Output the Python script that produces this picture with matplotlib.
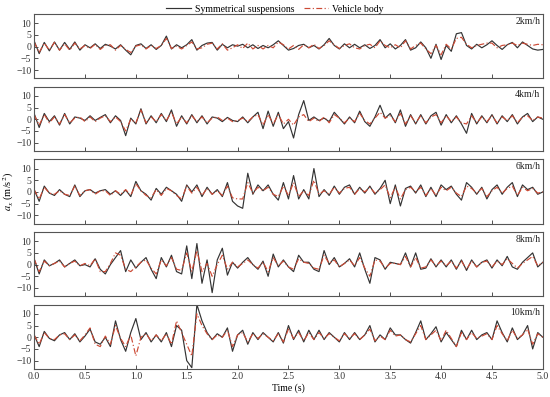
import numpy as np
import matplotlib
matplotlib.use("Agg")
import matplotlib.pyplot as plt

plt.rcParams['font.family'] = ['Liberation Serif', 'DejaVu Serif']
plt.rcParams['mathtext.fontset'] = 'stix'

# sample time (s), 0.05 s step
time = np.round(np.arange(101) * 0.05, 2)

speeds = ["2km/h", "4km/h", "6km/h", "8km/h", "10km/h"]

# Symmetrical suspensions (m/s^2)
sym_2 = [2.5, -3.0, 1.8, -1.8, 2.0, -1.5, 1.8, -1.2, 2.0, -1.5,
         0.8, -0.5, 1.2, -0.8, 1.0, 0.2, -1.0, 0.8, -1.5, -3.5,
         0.5, 1.2, -0.8, 0.8, -1.2, 0.5, 4.5, -1.0, 0.8, -0.5,
         0.8, 3.0, -1.5, 0.5, 1.5, 1.8, -1.5, 1.0, -0.5, 0.8,
         0.2, 1.0, -0.5, 0.8, -0.8, 0.5, -0.5, 0.8, 2.5, 0.5,
         -1.5, -0.8, 0.5, 1.0, -0.5, 0.5, -1.0, 0.8, 3.5, 0.5,
         -1.0, 1.2, -0.5, 1.0, -0.5, 0.8, -0.8, 0.5, 3.0, -0.5,
         1.2, -1.0, 0.5, 3.0, -1.5, -0.5, 2.0, -0.5, -5.0, 1.0,
         -5.5, 0.5, -2.0, 5.5, 6.0, 0.5, -1.0, 1.0, -0.5, 0.8,
         2.5, 0.5, -1.2, 0.8, 1.8, -0.5, 2.0, 0.5, -1.0, -1.5,
         -1.2]
sym_4 = [2.5, -3.5, 2.5, -1.0, 1.5, -2.5, 2.5, -2.0, 1.0, 0.5,
         -0.5, 1.5, -0.5, 0.8, 2.0, -1.5, 1.5, -0.5, -7.0, 0.5,
         -2.0, 4.5, -2.0, 1.5, -1.5, 2.5, -1.0, 4.0, -3.0, 1.5,
         -2.0, 2.0, -1.5, 1.5, -2.0, 1.0, 0.5, -1.0, 0.8, -0.5,
         -1.0, 1.0, -1.5, 1.0, 3.0, -4.0, 3.5, -3.0, 3.0, -4.0,
         -1.0, -8.0, 2.0, 8.0, -0.5, 1.0, -0.5, 0.5, -1.0, 3.0,
         0.5, -2.0, 1.0, -1.5, 3.5, -1.0, -3.0, 1.0, 6.0, 0.5,
         2.5, -1.5, 4.0, -3.0, 2.0, -2.0, 2.0, -2.0, 1.5, 3.0,
         -2.5, 2.0, -1.5, 1.5, -2.0, -6.0, 2.5, -2.0, 1.5, -1.5,
         2.0, -2.0, 1.5, -1.0, 2.0, -2.0, 1.0, 2.5, -1.0, 1.0,
         0.0]
sym_6 = [1.0, -4.0, 2.5, -0.5, -1.5, 1.0, -1.0, -2.0, 3.0, -2.0,
         0.5, 1.0, -0.5, 0.5, 1.0, -1.0, 0.5, -1.5, 0.8, -2.0,
         4.5, 0.5, -1.0, -3.5, 1.5, -1.0, 2.0, 0.5, -1.0, -4.0,
         3.0, 0.0, 3.0, -2.0, 2.0, -1.0, 1.0, -2.0, 4.0, -4.0,
         -6.0, -7.0, 8.0, -1.0, 3.0, 0.5, 3.0, -1.0, -3.5, 4.0,
         -3.0, 7.0, -3.0, 1.0, -3.0, 10.0, -2.0, 1.0, -1.5, 2.5,
         -1.0, 2.0, 3.0, -1.0, 2.0, -0.5, 2.5, -1.0, 1.5, 5.0,
         -5.0, 3.0, -6.0, 1.5, 2.5, -0.5, 3.0, -2.0, 2.0, -2.0,
         3.0, 1.0, 2.5, -1.0, -3.5, 4.0, 2.0, -1.0, 2.0, -3.0,
         1.0, 3.0, -1.0, 2.0, 4.0, -2.0, 3.0, 1.0, 2.0, -1.0,
         0.0]
sym_8 = [2.5, -4.0, 2.0, -0.5, 0.5, 2.0, -1.0, 0.5, 2.0, -0.5,
         0.0, -1.0, 2.5, -2.0, -4.0, 0.0, 3.0, 6.0, -3.0, 2.0,
         -1.5, 1.0, 3.0, -2.0, -6.0, 3.0, -1.0, 4.0, -3.0, -4.0,
         8.0, -6.0, 9.0, -8.0, 2.0, -12.0, 2.0, 7.0, -4.5, 1.0,
         -1.5, 1.0, 3.0, 0.0, -2.0, 1.5, -5.0, 4.5, -1.0, 2.0,
         -1.0, -3.0, 4.0, 1.0, 1.0, -2.0, -3.0, 6.0, 0.0, 3.0,
         -1.0, 0.5, 2.5, -1.0, 5.0, -2.0, -8.0, 3.0, 2.0, -2.0,
         1.0, 0.5, 0.0, 5.0, -1.0, 5.0, -2.0, -1.5, 2.5, -1.0,
         2.0, -1.0, 2.0, -2.0, 2.0, -2.5, 2.0, -1.0, 1.0, 2.0,
         -1.5, 2.0, -0.5, 3.5, -1.0, -2.0, 1.0, 3.0, 5.0, -1.0,
         1.0]
sym_10 = [1.0, -4.0, 2.5, -0.5, -1.5, 1.0, 2.0, -1.0, 1.5, -2.0,
          0.5, 3.5, -2.0, -3.0, 0.0, -4.0, 7.0, -1.0, -6.0, 2.0,
          8.0, -1.0, 2.0, -2.0, 1.0, -2.0, 2.0, -4.0, 5.0, 3.0,
          -10.0, -13.0, 14.0, 7.0, 2.0, -1.0, 1.5, 0.0, 4.0, -6.0,
          1.0, 3.0, -3.0, 2.0, -1.0, 2.0, 0.0, -2.0, 2.0, -2.5,
          5.0, -1.0, 3.0, -2.0, 3.0, -1.0, 3.0, -1.0, 2.0, 0.0,
          -2.0, 2.0, -1.0, 2.0, -1.0, 1.0, 5.0, -2.0, 1.0, -1.0,
          4.0, 1.0, 1.0, -1.0, -2.5, 2.0, 7.0, -1.0, 1.5, 4.5,
          -2.0, 2.0, -1.0, -4.0, 3.0, -1.0, 3.0, -1.0, 1.0, 2.0,
          -1.0, 7.0, 2.0, -2.0, 4.0, -1.0, 1.0, 5.0, -5.0, 2.0,
          0.0]

# Vehicle body (m/s^2)
body_2 = [2.0, -2.5, 1.5, -1.5, 1.8, -1.5, 1.2, -1.5, 1.5, -1.0,
          0.5, -0.8, 1.0, -1.2, 0.5, 0.8, -1.5, 0.5, -1.2, -2.5,
          0.2, 0.8, -1.0, 0.5, -0.8, 0.5, 3.5, -0.8, 0.2, -1.0,
          0.5, 2.0, -1.0, -0.5, 1.0, 1.5, -1.0, 1.2, -1.5, -0.5,
          0.8, -0.8, 1.5, -1.0, 0.5, -1.0, 0.5, -0.5, 2.0, 0.8,
          -1.0, 0.5, -1.2, 0.8, -0.5, 1.0, -0.8, 0.5, 2.5, 0.8,
          -0.8, 0.5, 1.2, -0.5, -1.0, 0.5, 1.0, -0.5, 2.5, 0.5,
          -0.5, 0.8, -0.5, 2.5, -1.0, 0.5, 1.5, -1.0, -3.0, 0.5,
          -3.5, 1.0, -1.0, 3.5, 4.0, 1.0, -0.5, 0.5, 1.0, 1.5,
          1.5, -0.5, 0.5, 0.8, 1.5, 0.5, 1.5, 1.0, 0.5, 1.0,
          0.8]
body_4 = [2.0, -2.5, 2.0, -1.5, 1.0, -2.0, 2.0, -1.5, 0.5, 1.0,
          -1.0, 1.0, -1.0, 0.5, 1.5, -1.0, 1.0, -1.0, -5.0, 0.0,
          -1.5, 4.0, -1.5, 1.0, -1.0, 2.0, -0.5, 3.0, -2.0, 1.0,
          -1.5, 1.5, -1.0, 1.0, -1.5, 0.5, 1.0, -0.5, 0.5, -1.0,
          -0.5, 0.5, -1.0, 1.0, 2.0, -2.5, 2.0, -2.0, 2.0, -2.0,
          0.0, -2.5, 1.0, 2.0, -1.0, 0.5, -1.0, 1.0, -1.5, 2.0,
          0.5, -1.5, 0.5, -1.0, 2.5, -0.5, -2.0, 0.5, 3.0, 0.5,
          1.5, -1.0, 2.5, -2.0, 1.5, -1.5, 1.5, -1.5, 1.0, 2.0,
          -1.5, 1.5, -1.0, 1.0, -1.5, -2.0, 1.5, -1.5, 1.0, -1.0,
          1.5, -1.5, 1.0, -0.5, 1.5, -1.5, 1.0, 1.5, -0.5, 1.0,
          0.5]
body_6 = [1.0, -3.0, 2.0, -0.5, -1.0, 0.5, -1.0, -1.5, 2.5, -1.5,
          0.5, 1.0, -1.0, 0.5, 0.5, -1.5, 0.5, -1.0, 1.0, -1.5,
          3.5, 0.5, -1.5, -2.5, 1.0, -1.5, 1.5, 0.5, -1.5, -3.0,
          2.5, -0.5, 2.0, -1.5, 1.5, -1.0, 0.5, -1.5, 2.5, -2.5,
          -3.0, -3.0, 4.0, -0.5, 2.0, 0.5, 2.0, -1.0, -2.0, 2.5,
          -1.5, 4.0, -2.0, 0.5, -1.5, 5.0, -1.0, 0.5, -1.0, 2.0,
          -0.5, 1.5, 2.0, -1.0, 1.5, 0.0, 2.0, -0.5, 1.0, 3.0,
          -2.5, 2.0, -3.0, 1.0, 2.0, 0.0, 2.0, -1.5, 1.5, -1.5,
          2.0, 0.5, 2.0, -0.5, -2.0, 2.5, 1.5, -0.5, 1.5, -2.0,
          0.5, 2.0, -0.5, 1.5, 2.5, -1.5, 2.0, 0.5, 1.5, -0.5,
          0.0]
body_8 = [2.5, -3.0, 1.5, -0.5, 0.5, 1.5, -1.0, 0.5, 1.5, -0.5,
          0.5, -0.5, 2.5, -3.0, -3.0, 0.5, 5.0, 4.0, -2.0, -3.0,
          -1.0, 1.0, 2.0, -1.5, -4.0, 2.0, -0.5, 3.0, -2.0, -2.5,
          5.0, -3.0, 6.0, -3.0, 0.5, -5.0, 0.0, 4.0, -2.0, 1.0,
          -1.0, 0.5, 2.0, 0.0, -1.5, 1.0, -3.0, 3.0, -0.5, 1.5,
          -1.0, -2.0, 2.5, 1.0, 0.5, -1.5, -2.0, 4.0, 0.5, 2.0,
          -1.0, 0.5, 2.0, -0.5, 3.0, -1.5, -5.0, 2.0, 1.5, -1.5,
          0.5, 0.5, 0.0, 3.5, -1.0, 3.0, -1.5, -1.0, 2.0, -0.5,
          1.5, -0.5, 1.5, -1.5, 1.5, -2.0, 1.5, -1.0, 1.0, 1.5,
          -1.0, 1.5, 0.0, 2.5, 0.5, -1.5, 0.5, 2.0, 3.5, -0.5,
          1.0]
body_10 = [1.0, -3.0, 2.0, -0.5, -1.0, 1.0, 1.5, -1.0, 1.0, -1.5,
           1.0, 4.0, -3.0, -4.0, 0.5, -3.0, 5.0, -0.5, -4.0, 1.0,
           -8.0, 0.0, 1.5, -1.5, 1.0, -1.5, 1.5, -3.0, 7.0, 2.0,
           -3.0, -8.0, 10.0, 5.0, 1.5, -1.0, 1.0, 0.0, 3.0, -4.0,
           1.0, 2.0, -2.0, 1.5, -0.5, 1.5, 0.0, -1.5, 1.5, -2.0,
           3.5, -0.5, 2.0, -1.5, 2.0, -1.0, 2.0, -0.5, 1.5, 0.0,
           -1.5, 1.5, -0.5, 1.5, -1.0, 1.0, 3.5, -1.5, 0.5, -1.0,
           3.0, 0.5, 1.0, -1.0, -2.0, 1.5, 5.0, -1.0, 1.0, 3.0,
           -1.5, 3.0, -0.5, -4.0, 2.0, -1.0, 2.0, -0.5, 0.5, 1.5,
           -1.0, 5.0, 1.5, -1.5, 3.0, -0.5, 1.0, 3.5, -3.0, 1.5,
           0.0]

sym_all = [sym_2, sym_4, sym_6, sym_8, sym_10]
body_all = [body_2, body_4, body_6, body_8, body_10]

fig, axes = plt.subplots(5, 1, figsize=(5.5, 3.97), dpi=100, sharex=True)
fig.subplots_adjust(left=0.062, right=0.987, top=0.965, bottom=0.071, hspace=0.13)

for ax, spd, s, b in zip(axes, speeds, sym_all, body_all):
    ln1, = ax.plot(time, s, color='#333333', lw=0.85, label='Symmetrical suspensions')
    ln2, = ax.plot(time, b, color='#cc4a35', lw=0.85, dashes=(5, 2, 1, 2),
                   label='Vehicle body')
    ax.set_xlim(0, 5)
    ax.set_ylim(-13.5, 14)
    ax.set_yticks([-10, -5, 0, 5, 10])
    ax.set_xticks(np.arange(0, 5.01, 0.5))
    ax.tick_params(direction='in', labelsize=7, length=3, width=0.6, pad=2,
                   colors='#333333')
    for sp in ax.spines.values():
        sp.set_color('#555555')
        sp.set_linewidth(0.8)
    ax.text(0.995, 0.95, spd, transform=ax.transAxes, ha='right', va='top',
            fontsize=7, color='#222222')

axes[-1].set_xticklabels([f"{v:.1f}" for v in np.arange(0, 5.01, 0.5)])
axes[-1].set_xlabel('Time (s)', fontsize=7, labelpad=2)
axes[2].set_ylabel('$a_x$ (m/s$^2$)', fontsize=7.5)
axes[2].yaxis.set_label_coords(-0.036, 0.5)

fig.legend([ln1, ln2], ['Symmetrical suspensions', 'Vehicle body'],
           loc='upper center', bbox_to_anchor=(0.5, 1.01), ncol=2,
           frameon=False, fontsize=7, handlelength=2.5, columnspacing=1.0,
           handletextpad=0.4)

fig.savefig('out.png', dpi=100)
